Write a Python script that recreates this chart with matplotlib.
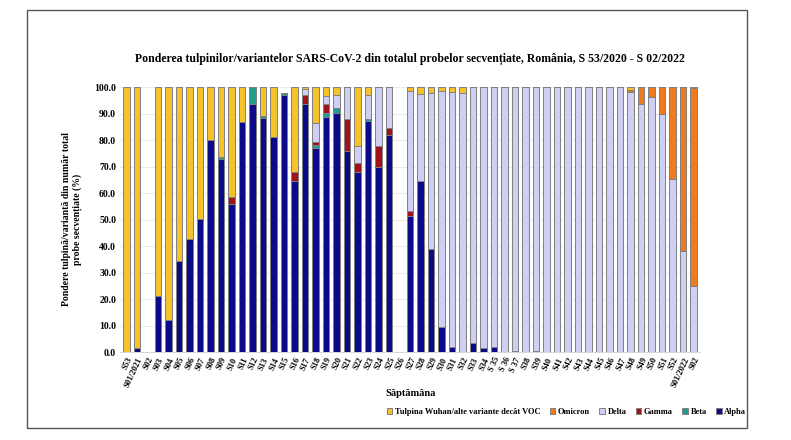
import matplotlib
matplotlib.use('Agg')
import matplotlib.pyplot as plt
import matplotlib.patches as mpatches
import numpy as np

plt.rcParams['font.family'] = ['Liberation Serif', 'DejaVu Serif']
plt.rcParams['font.weight'] = 'bold'

# săptămânile
weeks = (['S53', 'S01/2021', 'S02'] +
         ['S%02d' % i for i in range(3, 35)] +
         ['S 35', 'S 36', 'S 37'] +
         ['S%02d' % i for i in range(38, 53)] +
         ['S01/2022', 'S02'])

# valori (%), S53/2020 ... S02/2022
alpha = [0, 1.5, 0, 21.3, 12.2, 34.3, 42.8, 50.1, 80.0, 73.0,
         56.0, 87.0, 93.8, 88.2, 81.3, 97.1, 64.7, 93.7, 77.2, 88.9,
         90.2, 76.0, 68.0, 87.3, 70.0, 82.0, 0, 51.4, 64.4, 38.9,
         9.4, 1.9, 0, 3.4, 1.4, 1.8, 0, 0.3, 0, 0.3,
         0, 0, 0, 0, 0, 0, 0, 0, 0, 0,
         0, 0, 0, 0, 0]
beta = [0, 0, 0, 0, 0, 0, 0, 0, 0, 0.8,
        0, 0, 6.2, 0.8, 0, 0.6, 0, 0, 0.8, 1.3,
        2.0, 0, 0, 0.7, 0, 0, 0, 0, 0, 0,
        0, 0, 0, 0, 0, 0, 0, 0, 0, 0,
        0, 0, 0, 0, 0, 0, 0, 0, 0, 0,
        0, 0, 0, 0, 0]
gamma = [0, 0, 0, 0, 0, 0, 0, 0, 0, 0,
         2.5, 0, 0, 0, 0, 0, 3.1, 3.4, 1.2, 3.5,
         0, 11.9, 3.3, 0, 7.6, 2.5, 0, 1.7, 0, 0,
         0, 0, 0, 0, 0, 0, 0, 0, 0, 0,
         0, 0, 0, 0, 0, 0, 0, 0, 0, 0,
         0, 0, 0, 0, 0]
delta = [0, 0, 0, 0, 0, 0, 0, 0, 0, 0,
         0, 0, 0, 0, 0, 0, 0, 2.1, 7.1, 3.0,
         4.8, 12.1, 6.3, 9.0, 22.4, 15.5, 0, 45.3, 33.1, 58.8,
         89.1, 96.2, 97.7, 96.6, 98.6, 98.2, 100, 99.7, 100, 99.7,
         100, 100, 100, 100, 100, 100, 100, 100, 98.0, 93.7,
         96.2, 89.8, 65.5, 38.0, 25.0]
omicron = [0, 0, 0, 0, 0, 0, 0, 0, 0, 0,
           0, 0, 0, 0, 0, 0, 0, 0, 0, 0,
           0, 0, 0, 0, 0, 0, 0, 0, 0, 0,
           0, 0, 0, 0, 0, 0, 0, 0, 0, 0,
           0, 0, 0, 0, 0, 0, 0, 0, 1.0, 6.3,
           3.8, 10.2, 34.5, 62.0, 74.5]
wuhan = [100, 98.5, 0, 78.7, 87.8, 65.7, 57.2, 49.9, 20.0, 26.2,
         41.5, 13.0, 0, 11.0, 18.7, 0, 32.2, 0.8, 13.7, 3.3,
         3.0, 0, 22.4, 3.0, 0, 0, 0, 1.6, 2.5, 2.3,
         1.5, 1.9, 2.3, 0, 0, 0, 0, 0, 0, 0,
         0, 0, 0, 0, 0, 0, 0, 0, 1.0, 0,
         0, 0, 0, 0, 0.5]

series = [
    ('Alpha', alpha, '#0b0b8a'),
    ('Beta', beta, '#1f9e8f'),
    ('Gamma', gamma, '#a3121a'),
    ('Delta', delta, '#cfcff5'),
    ('Omicron', omicron, '#f07a1e'),
    ('Tulpina Wuhan/alte variante decât VOC', wuhan, '#f5c22c'),
]

fig = plt.figure(figsize=(7.91, 4.40), dpi=100)
ax = fig.add_axes([0.152, 0.2, 0.733, 0.602])

x = np.arange(len(weeks))
bottom = np.zeros(len(weeks))
handles = {}
for name, vals, col in series:
    vals = np.array(vals, dtype=float)
    ax.bar(x, vals, 0.62, bottom=bottom, color=col, edgecolor='#808080',
           linewidth=0.7, zorder=3)
    bottom += vals
    handles[name] = mpatches.Patch(facecolor=col, edgecolor='#808080', linewidth=0.7, label=name)

ax.set_xlim(-0.6, len(weeks) - 0.4)
ax.set_ylim(0, 100)
ax.set_yticks(np.arange(0, 101, 10))
ax.set_yticklabels(['%.1f' % v for v in np.arange(0, 101, 10)], fontsize=7, fontweight='bold')
ax.set_xticks(x)
ax.set_xticklabels(weeks, rotation=65, ha='right', rotation_mode='anchor', fontsize=6, fontweight='bold')
ax.tick_params(axis='both', length=0, pad=3)
ax.grid(axis='y', color='#e8e8e8', linewidth=0.6, zorder=0)
for s in ['top', 'right', 'left']:
    ax.spines[s].set_visible(False)
ax.spines['bottom'].set_color('#d0d0d0')
ax.spines['bottom'].set_linewidth(0.6)

ax.set_ylabel('Pondere tulpină/variantă din număr total\nprobe secvențiate (%)',
              fontsize=7, fontweight='bold', labelpad=8)
ax.set_xlabel('Săptămâna', fontsize=7.5, fontweight='bold', labelpad=0)
ax.set_title('Ponderea tulpinilor/variantelor SARS-CoV-2 din totalul probelor secvențiate, România, S 53/2020 - S 02/2022',
             fontsize=8.5, fontweight='bold', pad=18)

order = ['Tulpina Wuhan/alte variante decât VOC', 'Omicron', 'Delta', 'Gamma', 'Beta', 'Alpha']
fig.legend(handles=[handles[n] for n in order], loc='center', bbox_to_anchor=(0.716, 0.064),
           ncol=6, frameon=False, handlelength=0.7, handleheight=0.7,
           handletextpad=0.3, columnspacing=1.1, prop={'weight': 'bold', 'size': 6})

# chenarul exterior
fig.patches.append(mpatches.Rectangle((0.034, 0.027), 0.910, 0.950, transform=fig.transFigure,
                                      fill=False, edgecolor='#555555', linewidth=1.0))

fig.savefig('out.png', dpi=100)
